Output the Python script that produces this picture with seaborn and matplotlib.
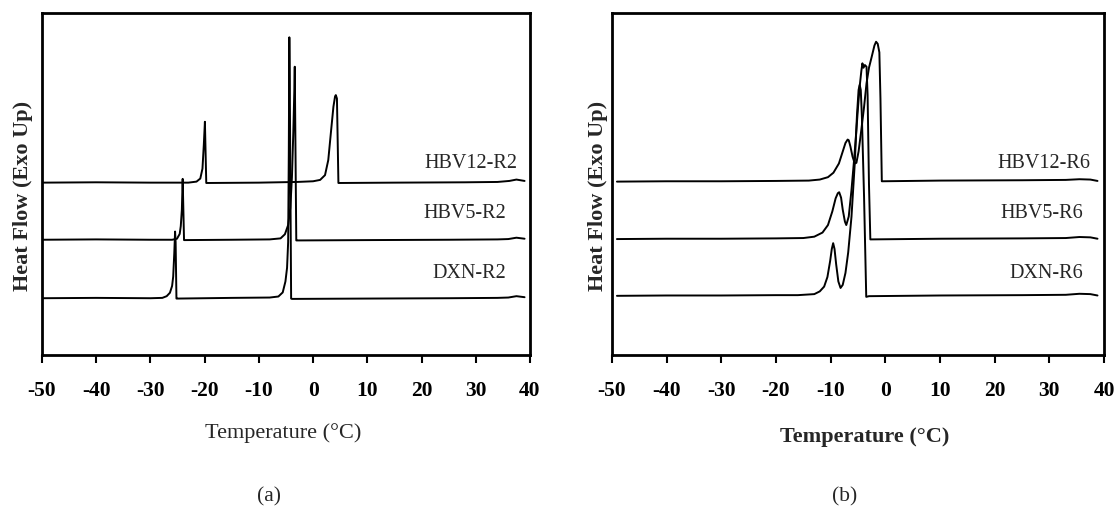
import matplotlib
matplotlib.use("Agg")
import matplotlib.pyplot as plt
import pandas as pd
import seaborn as sns

# ── Data (heat flow in arbitrary, offset units) ──

# (a) R2 samples
DXN_R2_T = [-50, -40, -30, -27.8, -27.0, -26.4, -26.0, -25.8, -25.6, -25.45,
            -25.35, -25.2, -25.0, -15, -8, -6.4, -5.6, -5.1, -4.8, -4.6,
            -4.48, -4.38, -4.3, -4.05, -3.9, 10, 25, 34, 36, 37.5, 39]
DXN_R2_Q = [16.6, 16.7, 16.6, 16.7, 17.2, 18.2, 20.2, 22.9, 29.7, 36.1,
            33.0, 16.5, 16.5, 16.7, 16.8, 17.1, 18.3, 21.5, 25.5, 33.0,
            58.9, 92.9, 80.0, 16.5, 16.4, 16.5, 16.6, 16.7, 16.8, 17.2, 16.9]

HBV5_R2_T = [-50, -40, -30, -26, -25.1, -24.6, -24.4, -24.2, -24.05, -23.8,
             -23.5, -15, -8, -6.0, -5.2, -4.6, -4.2, -3.9, -3.65, -3.45,
             -3.38, -3.1, -2.9, 10, 25, 34, 36, 37.5, 39]
HBV5_R2_Q = [33.7, 33.8, 33.7, 33.7, 34.0, 35.4, 37.7, 42.5, 51.5, 33.6,
             33.6, 33.7, 33.8, 34.1, 35.3, 38.0, 43.0, 52.0, 65.0, 78.0,
             84.3, 33.5, 33.5, 33.6, 33.7, 33.8, 33.9, 34.3, 34.0]

HBV12_R2_T = [-50, -40, -30, -23, -21.5, -20.8, -20.4, -20.15, -19.95, -19.7,
              -19.4, -10, -3, 0, 1.3, 2.2, 2.8, 3.27, 3.75, 4.05,
              4.19, 4.4, 4.67, 4.9, 15, 28, 34, 36.2, 37.5, 39]
HBV12_R2_Q = [50.4, 50.5, 50.4, 50.4, 50.7, 51.6, 54.5, 61.5, 68.2, 50.3,
              50.3, 50.4, 50.6, 50.8, 51.2, 52.6, 57.0, 64.8, 72.6, 75.6,
              76.0, 75.0, 50.3, 50.3, 50.4, 50.5, 50.6, 50.9, 51.3, 50.9]

# (b) R6 samples
DXN_R6_T = [-49.1, -40, -30, -20, -16, -13, -12, -11.2, -10.6, -10.1,
            -9.8, -9.55, -9.3, -9.0, -8.6, -8.2, -7.8, -7.3, -6.8, -6.2,
            -5.6, -5.2, -4.9, -4.7, -4.5, -4.3, -3.9, -3.5, -3.0, 10,
            25, 33, 35.5, 37.5, 38.8]
DXN_R6_Q = [17.3, 17.4, 17.4, 17.5, 17.5, 17.8, 18.6, 20.0, 22.8, 27.5,
            31.0, 32.7, 31.0, 26.5, 21.5, 19.6, 20.5, 24.0, 30.0, 40.4,
            56.0, 70.0, 77.5, 79.0, 77.5, 70.0, 46.3, 17.0, 17.2, 17.4,
            17.5, 17.6, 17.9, 17.8, 17.4]

HBV5_R6_T = [-49.1, -40, -30, -20, -15, -13, -11.5, -10.5, -9.7, -9.1,
             -8.7, -8.45, -8.1, -7.8, -7.4, -7.15, -6.7, -6.2, -5.7, -5.3,
             -5.0, -4.7, -4.4, -4.2, -4.0, -3.75, -3.45, -3.25, -3.0, -2.75,
             10, 25, 33, 35.5, 37.5, 38.8]
HBV5_R6_Q = [33.9, 34.0, 34.0, 34.1, 34.2, 34.6, 35.8, 38.0, 42.0, 45.8,
             47.3, 47.6, 46.0, 42.5, 39.0, 38.0, 40.5, 48.2, 57.5, 65.8,
             72.5, 78.5, 83.0, 85.3, 84.0, 84.8, 84.3, 76.0, 50.0, 33.8,
             34.0, 34.1, 34.2, 34.5, 34.4, 34.0]

HBV12_R6_T = [-49.1, -40, -30, -20, -14, -12, -10.5, -9.5, -8.5, -7.8,
              -7.3, -6.9, -6.7, -6.4, -6.0, -5.6, -5.3, -4.9, -4.4, -3.9,
              -3.45, -3.0, -2.5, -2.0, -1.7, -1.4, -1.1, -0.9, -0.65, 10,
              25, 33, 35.5, 37.5, 38.8]
HBV12_R6_Q = [50.7, 50.8, 50.8, 50.9, 51.0, 51.3, 52.0, 53.3, 56.0, 59.5,
              62.0, 63.0, 62.8, 61.0, 58.0, 56.0, 56.2, 59.5, 65.8, 72.5,
              79.4, 84.0, 87.2, 90.5, 91.6, 91.0, 88.5, 75.0, 50.8, 51.0,
              51.1, 51.2, 51.4, 51.3, 50.9]

# curve labels: text, x position of right edge, y centre
LABELS_A = [("HBV12-R2", 37.6, 56.1), ("HBV5-R2", 35.7, 41.5), ("DXN-R2", 35.7, 23.7)]
LABELS_B = [("HBV12-R6", 37.5, 56.1), ("HBV5-R6", 36.1, 41.5), ("DXN-R6", 36.1, 23.7)]

X_TICKS = list(range(-50, 41, 10))


def long_frame(series):
    rows = []
    for name, temps, flows in series:
        rows += [{"sample": name, "T": t, "Q": q} for t, q in zip(temps, flows)]
    return pd.DataFrame(rows)


df_a = long_frame([("DXN-R2", DXN_R2_T, DXN_R2_Q),
                   ("HBV5-R2", HBV5_R2_T, HBV5_R2_Q),
                   ("HBV12-R2", HBV12_R2_T, HBV12_R2_Q)])
df_b = long_frame([("DXN-R6", DXN_R6_T, DXN_R6_Q),
                   ("HBV5-R6", HBV5_R6_T, HBV5_R6_Q),
                   ("HBV12-R6", HBV12_R6_T, HBV12_R6_Q)])

sns.set_style("ticks")
plt.rcParams["font.family"] = ["Liberation Serif", "DejaVu Serif"]

fig = plt.figure(figsize=(11.16, 5.15), dpi=100)
ax_a = fig.add_axes([0.0376, 0.3107, 0.4373, 0.664])
ax_b = fig.add_axes([0.5484, 0.3107, 0.4409, 0.664])


def draw_panel(ax, df, labels, xlabel_bold, xlab_xy, ylab_x):
    sns.lineplot(data=df, x="T", y="Q", units="sample", estimator=None,
                 sort=False, color="black", linewidth=1.4, ax=ax, legend=False)
    for text, x, y in labels:
        ax.text(x, y, text, ha="right", va="center", fontsize=14.5)

    ax.set_xlim(-50, 40)
    ax.set_ylim(0, 100)
    ax.set_xticks(X_TICKS)
    ax.set_xticklabels([str(t) for t in X_TICKS], fontsize=15.5, fontweight="bold")
    ax.set_yticks([])
    ax.tick_params(axis="x", direction="out", length=6, width=1.5,
                   pad=13, colors="black")
    for side in ax.spines.values():
        side.set_visible(True)
        side.set_color("black")
        side.set_linewidth(2.0)

    ax.set_xlabel("Temperature (°C)", fontsize=16,
                  fontweight="bold" if xlabel_bold else "normal", va="center")
    ax.xaxis.set_label_coords(*xlab_xy)
    ax.set_ylabel("Heat Flow (Exo Up)", fontsize=16, fontweight="bold", va="center")
    ax.yaxis.set_label_coords(ylab_x, 0.465)


draw_panel(ax_a, df_a, LABELS_A, False, (0.494, -0.228), -0.039)
draw_panel(ax_b, df_b, LABELS_B, True, (0.514, -0.24), -0.028)

fig.text(0.241, 0.035, "(a)", ha="center", va="center", fontsize=15.5)
fig.text(0.757, 0.035, "(b)", ha="center", va="center", fontsize=15.5)

fig.savefig("out.png", dpi=100, facecolor="white")
plt.close(fig)
